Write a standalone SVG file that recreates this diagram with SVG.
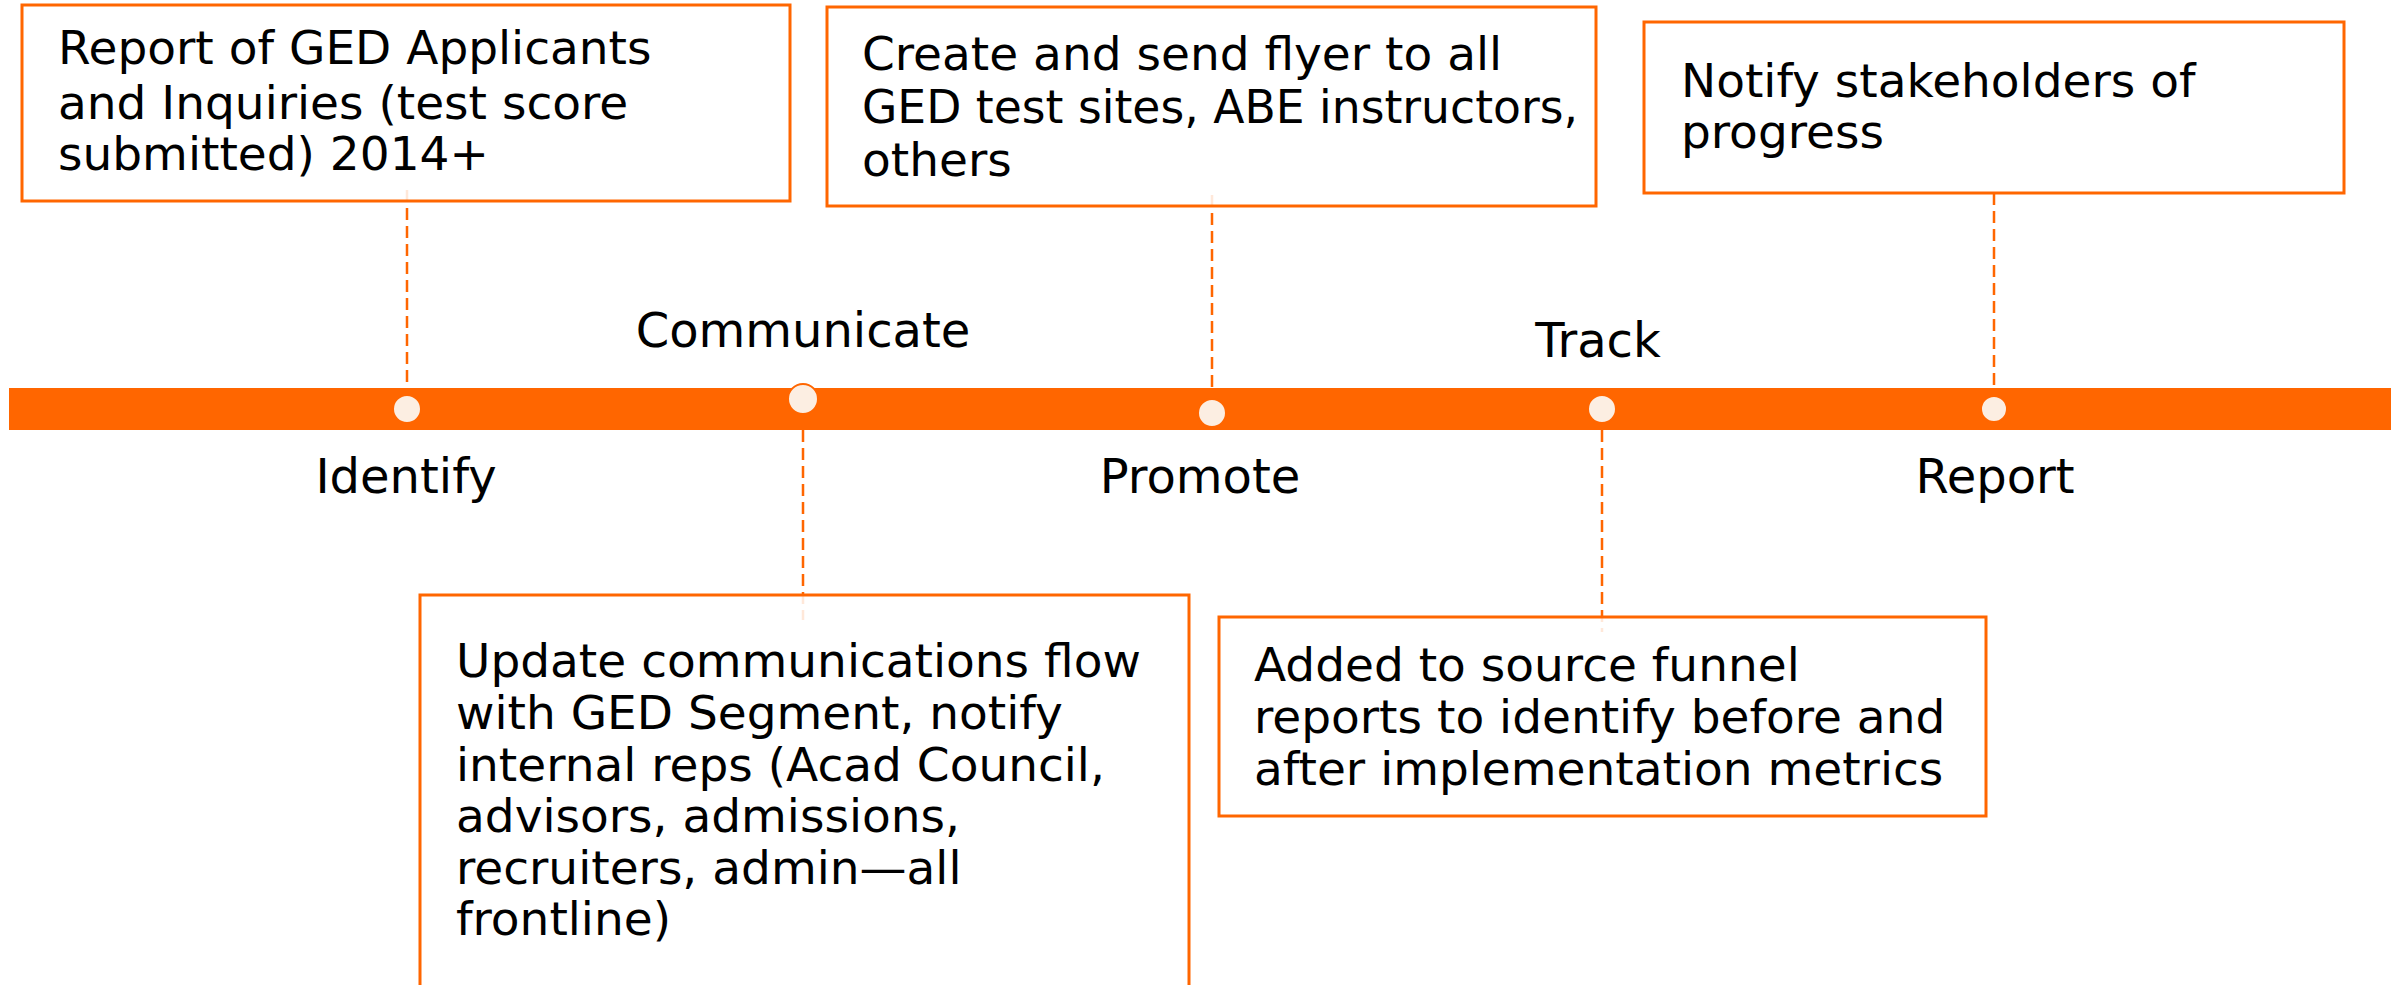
<svg xmlns="http://www.w3.org/2000/svg" width="2402" height="985" viewBox="0 0 2402 985">
<style>
.box{fill:#ffffff;fill-opacity:0.85;stroke:#FF6600;stroke-width:3}
.t{font-family:"DejaVu Sans","Liberation Sans",sans-serif;font-size:47px;fill:#000}
.lbl{font-family:"DejaVu Sans","Liberation Sans",sans-serif;font-size:48px;fill:#000;text-anchor:middle}
.dot{fill:#FCEEE2;stroke:#FF6600;stroke-width:2}
.con{stroke:#FF6600;stroke-width:2.5;stroke-dasharray:12 6;fill:none}
</style>
<rect width="2402" height="985" fill="#ffffff"/>
<g id="timeline">
<rect x="9" y="388" width="2382" height="42" fill="#FF6600"/>
</g>
<g id="connectors">
<line class="con" x1="407" y1="190" x2="407" y2="388"/>
<line class="con" x1="803" y1="430" x2="803" y2="620"/>
<line class="con" x1="1212" y1="195" x2="1212" y2="388"/>
<line class="con" x1="1602" y1="430" x2="1602" y2="632"/>
<line class="con" x1="1994" y1="193" x2="1994" y2="388"/>
</g>
<g id="identify">
<circle class="dot" cx="407" cy="409" r="14"/>
<text class="lbl" x="406" y="493">Identify</text>
</g>
<g id="communicate">
<circle class="dot" cx="803" cy="399" r="15"/>
<text class="lbl" x="803" y="347">Communicate</text>
</g>
<g id="promote">
<circle class="dot" cx="1212" cy="413" r="14"/>
<text class="lbl" x="1200" y="493">Promote</text>
</g>
<g id="track">
<circle class="dot" cx="1602" cy="409" r="14"/>
<text class="lbl" x="1598" y="357">Track</text>
</g>
<g id="report">
<circle class="dot" cx="1994" cy="409" r="13"/>
<text class="lbl" x="1995" y="493">Report</text>
</g>
<g id="box-identify">
<rect class="box" x="22" y="5" width="768" height="196"/>
<text class="t" x="58" y="64">Report of GED Applicants</text>
<text class="t" x="58" y="119">and Inquiries (test score</text>
<text class="t" x="58" y="170">submitted) 2014+</text>
</g>
<g id="box-promote">
<rect class="box" x="827" y="7" width="769" height="199"/>
<text class="t" x="862" y="70">Create and send flyer to all</text>
<text class="t" x="862" y="123" textLength="716" lengthAdjust="spacingAndGlyphs">GED test sites, ABE instructors,</text>
<text class="t" x="862" y="176">others</text>
</g>
<g id="box-report">
<rect class="box" x="1644" y="22" width="700" height="171"/>
<text class="t" x="1681" y="97">Notify stakeholders of</text>
<text class="t" x="1681" y="148">progress</text>
</g>
<g id="box-communicate">
<rect class="box" x="420" y="595" width="769" height="400"/>
<text class="t" x="456" y="677">Update communications flow</text>
<text class="t" x="456" y="729">with GED Segment, notify</text>
<text class="t" x="456" y="781">internal reps (Acad Council,</text>
<text class="t" x="456" y="832">advisors, admissions,</text>
<text class="t" x="456" y="884">recruiters, admin—all</text>
<text class="t" x="456" y="935">frontline)</text>
</g>
<g id="box-track">
<rect class="box" x="1219" y="617" width="767" height="199"/>
<text class="t" x="1254" y="681">Added to source funnel</text>
<text class="t" x="1254" y="733">reports to identify before and</text>
<text class="t" x="1254" y="785">after implementation metrics</text>
</g>
</svg>
